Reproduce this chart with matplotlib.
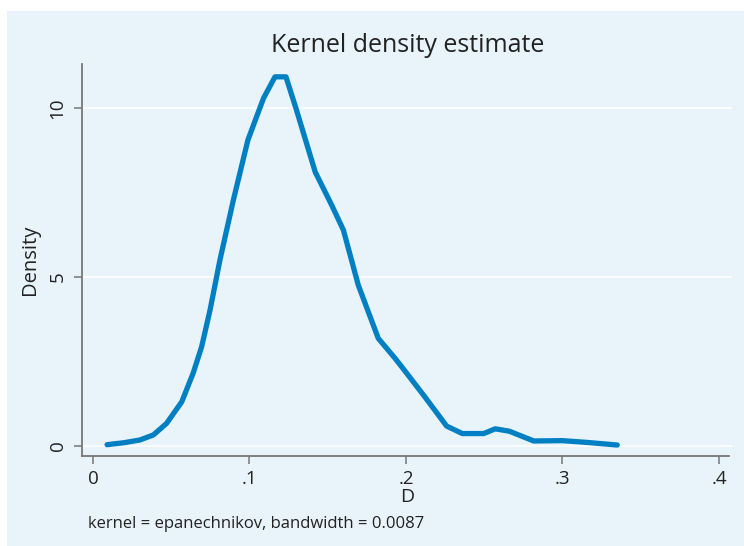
import matplotlib.pyplot as plt
from matplotlib.patches import Rectangle

# density curve
d_vals = [0.009, 0.02, 0.030, 0.0386, 0.047, 0.0567, 0.064, 0.0694, 0.0748, 0.0811,
          0.0897, 0.099, 0.109, 0.1163, 0.1233, 0.130, 0.142, 0.1525, 0.160, 0.1695,
          0.1823, 0.193, 0.1994, 0.212, 0.226, 0.236, 0.2497, 0.257, 0.266,
          0.2816, 0.2997, 0.315, 0.335]
density = [0.03, 0.09, 0.17, 0.32, 0.66, 1.30, 2.15, 2.93, 4.02, 5.50,
           7.28, 9.06, 10.3, 10.93, 10.93, 9.95, 8.11, 7.13, 6.39, 4.76,
           3.18, 2.59, 2.21, 1.45, 0.58, 0.36, 0.36, 0.5, 0.43,
           0.14, 0.15, 0.1, 0.02]
x_ticks = [0, 0.1, 0.2, 0.3, 0.4]
x_labels = ['0', '.1', '.2', '.3', '.4']
y_ticks = [0, 5, 10]

bg = '#e8f3fa'
line_col = '#0080c3'
txt = '#222222'
plt.rcParams['font.family'] = ['Open Sans', 'DejaVu Sans']

W, H = 744, 546
fig = plt.figure(figsize=(W / 100, H / 100), dpi=100)
fig.patch.set_facecolor('white')
fig.patches.append(Rectangle((7 / W, 0), 1, 1 - 11 / H, transform=fig.transFigure,
                             facecolor=bg, edgecolor='none', zorder=-5))

ax = fig.add_axes([82 / W, (H - 456) / H, (732 - 82) / W, (456 - 64) / H])
ax.set_zorder(2)
ax.set_facecolor(bg)
ax.plot(d_vals, density, color=line_col, lw=3.8, solid_capstyle='round',
        solid_joinstyle='round', zorder=3)

ax.set_xlim(-0.00703, 0.4064 + (732 - 729) / 1565)
ax.set_ylim(-0.305, 11.31)
for y in y_ticks:
    ax.axhline(y, color='white', lw=1.2, zorder=1)

ax.set_xticks(x_ticks)
ax.set_xticklabels(x_labels)
ax.set_yticks(y_ticks)
ax.set_yticklabels([str(v) for v in y_ticks], rotation=90, va='center')
ax.tick_params(colors='#777777', labelcolor=txt, labelsize=13.5, length=6, width=1.1)
ax.tick_params(axis='x', pad=4)
ax.tick_params(axis='y', pad=5)

for s in ['top', 'right']:
    ax.spines[s].set_visible(False)
for s in ['left', 'bottom']:
    ax.spines[s].set_color('#777777')
    ax.spines[s].set_linewidth(1.3)
ax.spines['bottom'].set_bounds(-0.00703, 0.4064)

ax.set_xlabel('D', fontsize=14, color=txt, labelpad=0)
ax.set_ylabel('Density', fontsize=14.5, color=txt, labelpad=6)

fig.text(408 / W, 1 - 46 / H, 'Kernel density estimate', ha='center', va='center',
         fontsize=18, color=txt)
fig.text(88 / W, 1 - 524 / H, 'kernel = epanechnikov, bandwidth = 0.0087', ha='left',
         va='center', fontsize=12, color=txt)

fig.savefig('out.png', dpi=100, facecolor='white')
